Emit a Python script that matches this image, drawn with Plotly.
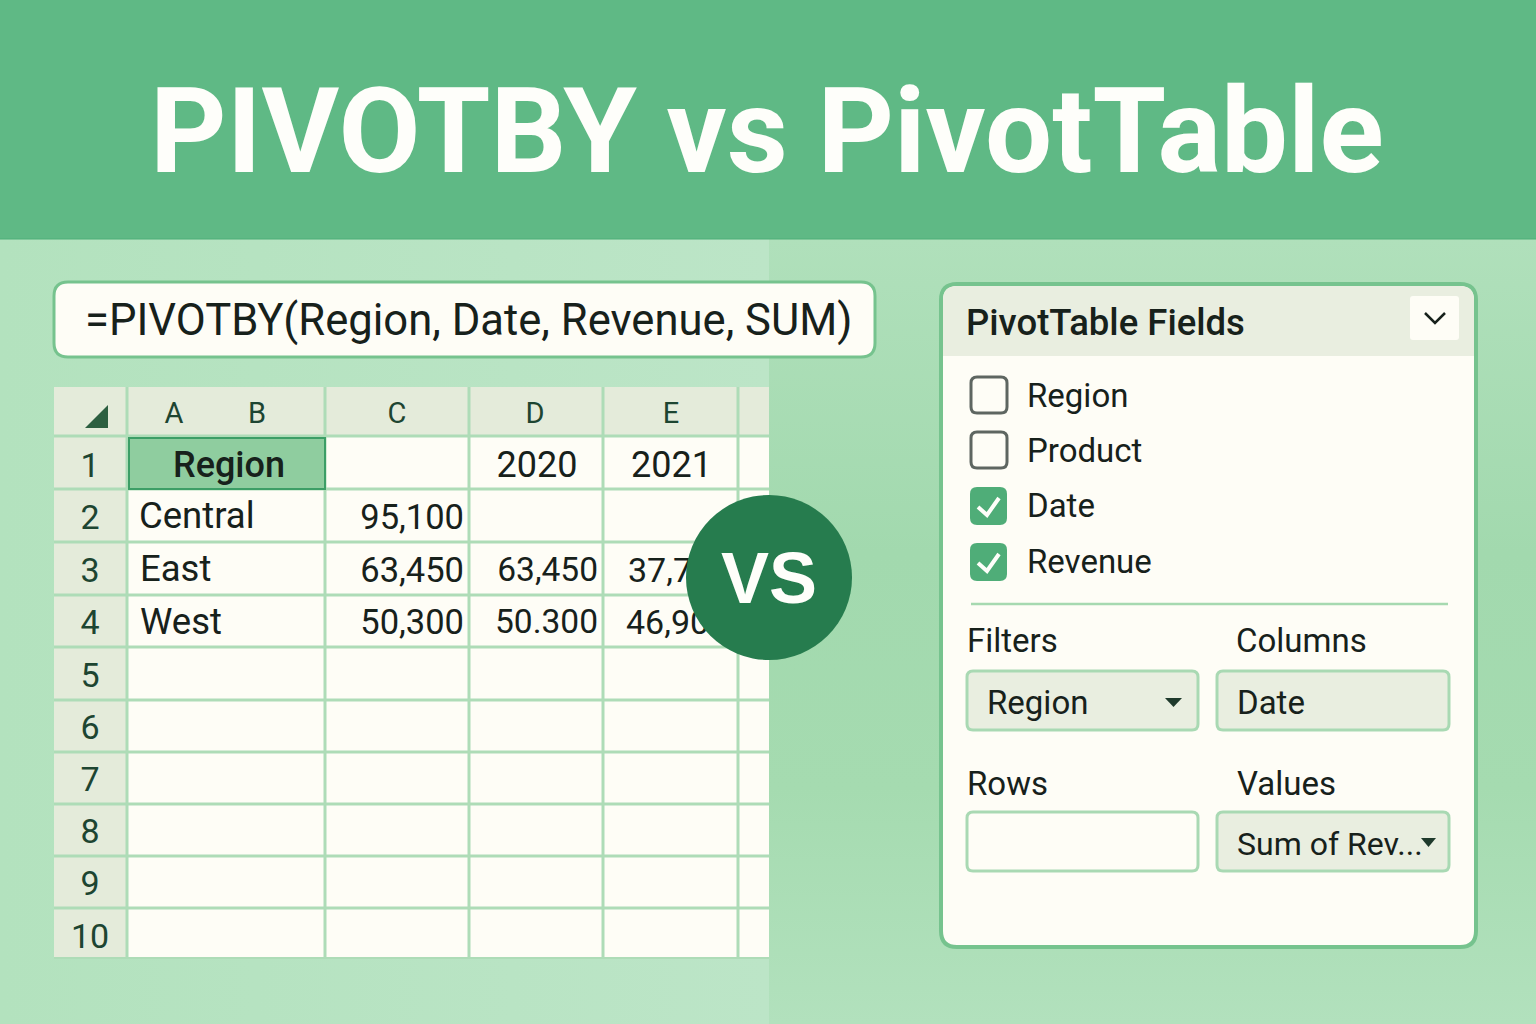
"""
PIVOTBY vs PivotTable - spreadsheet comparison graphic drawn with plotly shapes and text
"""

import urllib.parse

import plotly.graph_objects as go

# Text content
title = "PIVOTBY vs PivotTable"
formula = "=PIVOTBY(Region, Date, Revenue, SUM)"
badge = "VS"
column_letters = ["A", "B", "C", "D", "E"]
row_numbers = ["1", "2", "3", "4", "5", "6", "7", "8", "9", "10"]
header_cell = "Region"
years = ["2020", "2021"]
regions = ["Central", "East", "West"]
col_c_values = ["95,100", "63,450", "50,300"]
col_d_values = ["63,450", "50.300"]
col_e_values = ["37,7", "46,90"]
panel_title = "PivotTable Fields"
field_names = ["Region", "Product", "Date", "Revenue"]
field_checked = [False, False, True, True]
area_names = ["Filters", "Columns", "Rows", "Values"]
area_values = ["Region", "Date", "", "Sum of Rev..."]

# Palette
BANNER = "#5fb985"
BANNER_EDGE = "#4fae78"
PAPER = "#fefdf6"
HEADER_FILL = "#e4ebda"
GRID = "#aedcb7"
BORDER = "#76c38e"
SELECT_FILL = "#8fcd9f"
SELECT_LINE = "#3c9e66"
TEXT = "#17211b"
HEADER_TEXT = "#1d4531"
CHECK_FILL = "#4fad78"
CHECK_LINE = "#5e6661"
BOX_FILL = "#e9eee0"
BOX_LINE = "#a9d9b3"
BADGE_FILL = "#267c4e"
FONT = "Roboto"
LAYER = "between"  # over the background image, under the text traces

# Sheet geometry, in picture pixels
SHEET_X = [54, 127, 325, 469, 603, 738, 769]
SHEET_Y = [387, 436, 489, 542, 595, 647, 700, 752, 804, 856, 908, 958]
TEXT_DY = 6  # plotly sits middle-aligned text a little high

# Soft gradients behind everything, as an inline svg
BACKGROUND_SVG = """<svg xmlns="http://www.w3.org/2000/svg" width="1536" height="785">
<defs>
<linearGradient id="l" x1="0" y1="0" x2="1" y2="0">
<stop offset="0" stop-color="#b3e2be"/><stop offset="1" stop-color="#bce5c7"/></linearGradient>
<linearGradient id="r" x1="0" y1="0" x2="0" y2="1">
<stop offset="0" stop-color="#b0e0bb"/><stop offset="0.4" stop-color="#a2d9ae"/>
<stop offset="0.7" stop-color="#a5dbb0"/><stop offset="1" stop-color="#b2e1bd"/></linearGradient>
</defs>
<rect x="0" y="0" width="769" height="785" fill="url(#l)"/>
<rect x="769" y="0" width="767" height="785" fill="url(#r)"/>
</svg>"""

shapes = []


def add_rect(x0, y0, x1, y1, fill=None, line=None, width=0):
    shapes.append(dict(
        type="rect", x0=x0, y0=y0, x1=x1, y1=y1, layer=LAYER,
        fillcolor=fill or "rgba(0,0,0,0)",
        line=dict(color=line or "rgba(0,0,0,0)", width=width),
    ))


def add_round(x0, y0, x1, y1, r, fill=None, line=None, width=0):
    path = (
        f"M{x0 + r},{y0} L{x1 - r},{y0} Q{x1},{y0} {x1},{y0 + r} "
        f"L{x1},{y1 - r} Q{x1},{y1} {x1 - r},{y1} "
        f"L{x0 + r},{y1} Q{x0},{y1} {x0},{y1 - r} "
        f"L{x0},{y0 + r} Q{x0},{y0} {x0 + r},{y0} Z"
    )
    shapes.append(dict(
        type="path", path=path, layer=LAYER,
        fillcolor=fill or "rgba(0,0,0,0)",
        line=dict(color=line or "rgba(0,0,0,0)", width=width),
    ))


def add_line(x0, y0, x1, y1, color, width):
    shapes.append(dict(type="line", x0=x0, y0=y0, x1=x1, y1=y1, layer=LAYER,
                       line=dict(color=color, width=width)))


def add_poly(points, fill=None, line=None, width=0, closed=True):
    path = "M" + " L".join(f"{x},{y}" for x, y in points) + (" Z" if closed else "")
    shapes.append(dict(
        type="path", path=path, layer=LAYER,
        fillcolor=fill or "rgba(0,0,0,0)",
        line=dict(color=line or "rgba(0,0,0,0)", width=width),
    ))


fig = go.Figure()


def add_text(xs, ys, texts, size, color=TEXT, position="middle center", weight=400, family=FONT):
    fig.add_trace(go.Scatter(
        x=xs, y=[y + TEXT_DY for y in ys], text=texts, mode="text", textposition=position,
        textfont=dict(family=family, size=size, color=color, weight=weight),
        hoverinfo="skip", showlegend=False,
    ))


# Banner
add_rect(0, 0, 1536, 239, fill=BANNER)
add_line(0, 239, 1536, 239, BANNER_EDGE, 1)

# Formula bar
add_round(54, 282, 875, 357, 14, fill=PAPER, line=BORDER, width=3)

# Sheet
add_rect(SHEET_X[0], SHEET_Y[0], SHEET_X[-1], SHEET_Y[-1], fill=PAPER)
add_rect(SHEET_X[0], SHEET_Y[0], SHEET_X[-1], SHEET_Y[1], fill=HEADER_FILL)
add_rect(SHEET_X[0], SHEET_Y[0], SHEET_X[1], SHEET_Y[-1], fill=HEADER_FILL)
for x in SHEET_X[1:-1]:
    add_line(x, SHEET_Y[0], x, SHEET_Y[-1], GRID, 3)
for y in SHEET_Y[1:-1]:
    add_line(SHEET_X[0], y, SHEET_X[-1], y, GRID, 3)
add_line(SHEET_X[0], SHEET_Y[-1], SHEET_X[-1], SHEET_Y[-1], GRID, 2)
add_rect(SHEET_X[1] + 2, SHEET_Y[1] + 2, SHEET_X[2], SHEET_Y[2], fill=SELECT_FILL, line=SELECT_LINE, width=2)
add_poly([(85, 428), (108, 428), (108, 405)], fill="#2c5f40")

# Field panel
add_round(941, 284, 1476, 947, 16, fill=PAPER, line=BORDER, width=4)
shapes.append(dict(
    type="path", layer=LAYER, fillcolor=BOX_FILL, line=dict(color="rgba(0,0,0,0)", width=0),
    path="M943,356 L943,300 Q943,286 957,286 L1460,286 Q1474,286 1474,300 L1474,356 Z",
))
add_round(1410, 296, 1459, 340, 3, fill=PAPER)
add_poly([(1425, 313), (1435, 323), (1445, 313)], line=TEXT, width=2.5, closed=False)

check_y = [395, 450, 506, 562]
for y, checked in zip(check_y, field_checked):
    if checked:
        add_round(970, y - 19, 1007, y + 19, 7, fill=CHECK_FILL)
        add_poly([(978, y + 1), (987, y + 9), (999, y - 8)], line="#fefefa", width=4, closed=False)
    else:
        add_round(971, y - 18, 1007, y + 18, 6, line=CHECK_LINE, width=3)
add_line(971, 604, 1448, 604, "#a6d9b0", 2.5)

area_x = [(967, 1198), (1217, 1449), (967, 1198), (1217, 1449)]
area_y = [(671, 730), (671, 730), (812, 871), (812, 871)]
for (x0, x1), (y0, y1), value in zip(area_x, area_y, area_values):
    add_round(x0, y0, x1, y1, 6, fill=BOX_FILL if value else PAPER, line=BOX_LINE, width=3)
add_poly([(1165, 698), (1182, 698), (1173.5, 707)], fill="#1f3a2c")
add_poly([(1421, 838), (1436, 838), (1428.5, 847)], fill="#1f3a2c")

# Sheet text
add_text([174, 257, 397, 535, 671], [410] * 5, column_letters, 29, HEADER_TEXT)
add_text([90] * 10, [462, 514, 567, 619, 672, 724, 776, 828, 880, 933], row_numbers, 34, HEADER_TEXT)
add_text([229], [462], [header_cell], 36, TEXT, weight=500)
add_text([537, 671.5], [462, 462], years, 36)
add_text([139, 140, 140], [513, 566, 619], regions, 36.5, position="middle right")
add_text([464] * 3, [514, 567, 619], col_c_values, 34.5, position="middle left")
add_text([598] * 2, [567, 619], col_d_values, 33.5, position="middle left")
add_text([628, 626], [567, 619], col_e_values, 34, position="middle right")

# Formula and panel text
add_text([85], [318], [formula], 43.6, position="middle right")
add_text([966], [320], [panel_title], 36.5, position="middle right", weight=500)
add_text([1027] * 4, [393, 448, 503, 559], field_names, 33, position="middle right")
add_text([967, 1236, 967, 1237], [638, 638, 781, 781], area_names, 33, position="middle right")
add_text([987, 1237], [700, 700], area_values[:2], 33, position="middle right")
add_text([1237], [841], [area_values[3]], 32, position="middle right")

# Badge sits over the sheet text
shapes.append(dict(type="circle", x0=686, y0=495, x1=852, y1=660, layer="above",
                   fillcolor=BADGE_FILL, line=dict(color=BADGE_FILL, width=0)))

annotations = [
    dict(x=767, y=131, text=title, showarrow=False, xanchor="center", yanchor="middle",
         font=dict(family=FONT, size=119, color="#fefefa", weight=700)),
    dict(x=769, y=578, text=badge, showarrow=False, xanchor="center", yanchor="middle",
         font=dict(family="Liberation Sans", size=72, color="#fefefa", weight=700)),
]

images = [dict(
    source="data:image/svg+xml;utf8," + urllib.parse.quote(BACKGROUND_SVG),
    xref="x", yref="y", x=0, y=239, sizex=1536, sizey=785,
    xanchor="left", yanchor="top", sizing="stretch", layer="below",
)]

fig.update_layout(
    width=1536, height=1024,
    margin=dict(l=0, r=0, t=0, b=0),
    paper_bgcolor="#b6e3c1", plot_bgcolor="rgba(0,0,0,0)",
    xaxis=dict(range=[0, 1536], visible=False, fixedrange=True),
    yaxis=dict(range=[1024, 0], visible=False, fixedrange=True),
    shapes=shapes, annotations=annotations, images=images, showlegend=False,
)

fig.write_html("out.html", config=dict(displayModeBar=False),
               post_script="document.body.style.margin='0';")
